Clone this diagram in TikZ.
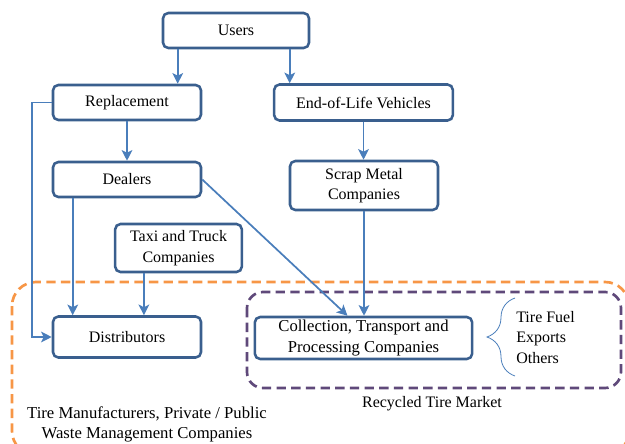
\documentclass[tikz,border=0pt]{standalone}
\usepackage{fontspec}
\setmainfont{Liberation Serif}[Ligatures=TeX]
\usetikzlibrary{arrows.meta,calc,decorations.pathreplacing}
\definecolor{boxblue}{HTML}{3A5F8E}
\definecolor{arrblue}{HTML}{4A7EBB}
\definecolor{orng}{HTML}{F79646}
\definecolor{purp}{HTML}{5F497A}
\tikzset{
  box/.style={draw=boxblue, line width=1.9pt, rounded corners=4pt, fill=white, align=center,
    font=\rmfamily\fontsize{12}{15.5}\selectfont, inner sep=0pt},
  arr/.style={draw=arrblue, line width=1.3pt, -{Stealth[length=8pt,width=8pt,inset=2pt]}},
  lbl/.style={font=\rmfamily\fontsize{12}{15.5}\selectfont, align=center, inner sep=0pt},
}
\begin{document}
\begin{tikzpicture}[x=0.75pt,y=-0.75pt]
\useasboundingbox (0,0) rectangle (625,443);
% groups
\draw[orng, line width=2pt, dash pattern=on 7pt off 4pt, rounded corners=18pt] (12,282) rectangle (629,455);
\draw[purp, line width=2pt, dash pattern=on 7pt off 4pt, rounded corners=12pt] (247,292) rectangle (621,388);
% boxes
\node[box, minimum width=109.5pt, minimum height=26.25pt] (users) at (236,30.5) {Users};
\node[box, minimum width=111pt, minimum height=26.25pt] (rep) at (127,102.5) {Replacement};
\node[box, minimum width=134pt, minimum height=27pt] (eol) at (363.5,102.5) {End-of-Life Vehicles};
\node[box, minimum width=111pt, minimum height=26.25pt] (deal) at (127,179.5) {Dealers};
\node[box, minimum width=111pt, minimum height=36.75pt] (scrap) at (364,185.5) {Scrap Metal\\Companies};
\node[box, minimum width=95pt, minimum height=36pt] (taxi) at (178.5,248) {Taxi and Truck\\Companies};
\node[box, minimum width=111pt, minimum height=30.75pt] (dist) at (127,337) {Distributors};
\node[box, minimum width=163pt, minimum height=31.5pt, font=\rmfamily\fontsize{12.5}{15.5}\selectfont] (coll) at (363.5,338) {Collection, Transport and\\Processing Companies};
% labels
\node[lbl] (rtm) at (432,404) {Recycled Tire Market};
\node[lbl, font=\rmfamily\fontsize{12.5}{15}\selectfont] (tm) at (147,424.5) {Tire Manufacturers, Private / Public\\Waste Management Companies};
\node[lbl, anchor=west, align=left] (fuel) at (516,337.5) {Tire Fuel\\Exports\\Others};
\coordinate (bb) at (515,376);
\coordinate (bt) at (515,298);
\draw[arrblue, line width=0.6pt, decorate, decoration={brace, amplitude=21pt, aspect=0.5}] (bb) -- (bt);
% connectors
\path (users.south west) ++(16,0) coordinate (u1);
\path (users.south west) ++(128,0) coordinate (u2);
\draw[arr] (u1) -- (u1 |- rep.north);
\draw[arr] (u2) -- (u2 |- eol.north);
\draw[arr] (rep.south) -- (deal.north);
\draw[arr] (eol.south) -- (eol.south |- scrap.north);
\draw[arr] (rep.west) -- ++(-20,0) |- (dist.west);
\path (deal.south west) ++(21,0) coordinate (d1);
\draw[arr] (d1) -- (d1 |- dist.north);
\path (taxi.south west) ++(30,0) coordinate (t1);
\draw[arr] (t1) -- (t1 |- dist.north);
\draw[arr] (deal.east) -- ($(coll.north)+(-16,0)$);
\draw[arr] (scrap.south) -- (scrap.south |- coll.north);
\end{tikzpicture}
\end{document}
